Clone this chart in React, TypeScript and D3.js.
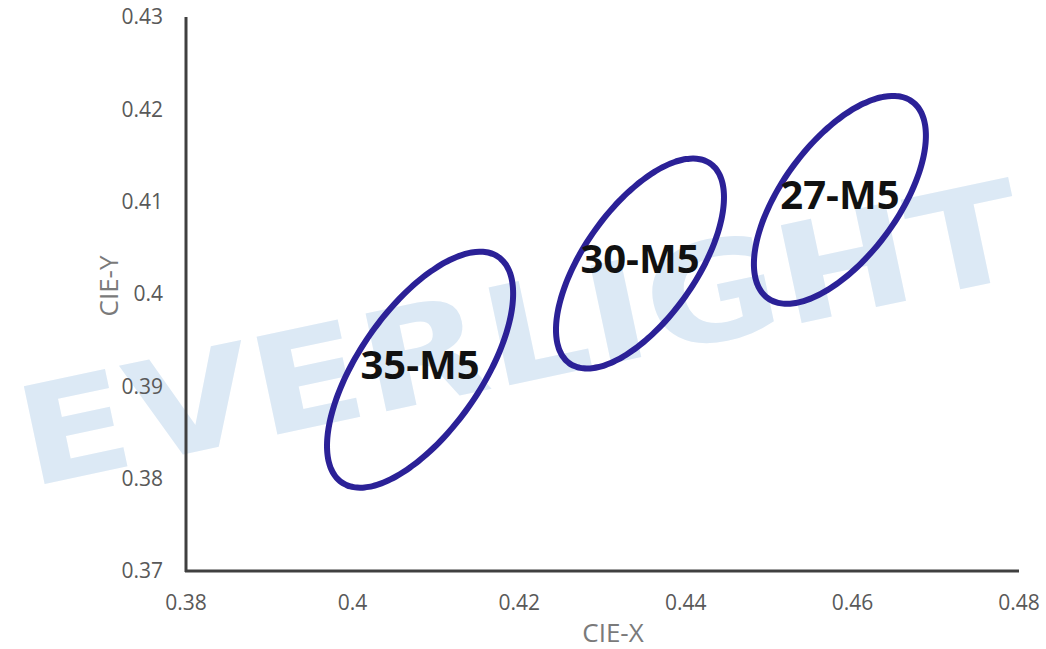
import React from 'react';
import * as d3 from 'd3';

// MacAdam 5-step ellipses
const bins = ['27-M5', '30-M5', '35-M5'];
const centerX = [0.4585, 0.4345, 0.4081];
const centerY = [0.4102, 0.4033, 0.3918];
const semiMajor = [0.01375, 0.01375, 0.01543];
const semiMinor = [0.00665, 0.00647, 0.00707];
const tiltDeg = [49.0, 50.4, 50.9];

const xTicks = [0.38, 0.4, 0.42, 0.44, 0.46, 0.48];
const yTicks = [0.37, 0.38, 0.39, 0.4, 0.41, 0.42, 0.43];

const W = 1046;
const H = 649;
const margin = { top: 17, right: 27, bottom: 78, left: 186 };

const fmt = (v: number) => String(+v.toFixed(2));

export default function App() {
  const x = d3.scaleLinear().domain([0.38, 0.48]).range([margin.left, W - margin.right]);
  const y = d3.scaleLinear().domain([0.37, 0.43]).range([H - margin.bottom, margin.top]);

  const angles = d3.range(0, 360, 3).map(d => (d * Math.PI) / 180);
  const outline = d3.line<[number, number]>()
    .x(d => x(d[0]))
    .y(d => y(d[1]))
    .curve(d3.curveCardinalClosed);

  const ellipses = bins.map((name, i) => {
    const th = (tiltDeg[i] * Math.PI) / 180;
    const pts: [number, number][] = angles.map(t => [
      centerX[i] + semiMajor[i] * Math.cos(th) * Math.cos(t) - semiMinor[i] * Math.sin(th) * Math.sin(t),
      centerY[i] + semiMajor[i] * Math.sin(th) * Math.cos(t) + semiMinor[i] * Math.cos(th) * Math.sin(t),
    ]);
    return { name, d: outline(pts) as string, cx: x(centerX[i]), cy: y(centerY[i]) };
  });

  const x0 = margin.left;
  const x1 = W - margin.right;
  const y0 = H - margin.bottom;
  const y1 = margin.top;

  return (
    <svg width={W} height={H} style={{ position: 'absolute', left: 0, top: 0, background: '#fff' }}>
      {/* watermark */}
      <text
        transform="translate(30,487) rotate(-12)"
        fontFamily="DejaVu Sans"
        fontWeight={700}
        fontSize={137}
        textLength={1022}
        lengthAdjust="spacingAndGlyphs"
        fill="#dce9f5"
      >
        EVERLIGHT
      </text>

      {/* axes */}
      <line x1={x0} x2={x0} y1={y1} y2={y0 + 1} stroke="#404040" strokeWidth={3} />
      <line x1={x0 - 1} x2={x1} y1={y0} y2={y0} stroke="#404040" strokeWidth={3} />

      {yTicks.map(v => (
        <text key={'y' + v} x={163} y={y(v)} dy="0.35em" textAnchor="end"
          fontFamily="Open Sans" fontSize={21} fill="#595959">{fmt(v)}</text>
      ))}
      {xTicks.map(v => (
        <text key={'x' + v} x={x(v)} y={603} dy="0.35em" textAnchor="middle"
          fontFamily="Open Sans" fontSize={21} fill="#595959">{fmt(v)}</text>
      ))}

      <text x={613} y={642} textAnchor="middle" fontFamily="Open Sans" fontSize={26} fill="#7a7a7a">CIE-X</text>
      <text transform="translate(118,286) rotate(-90)" textAnchor="middle" fontFamily="Open Sans"
        fontSize={26} fill="#7a7a7a">CIE-Y</text>

      {ellipses.map(e => (
        <path key={e.name} d={e.d} fill="none" stroke="#2b2197" strokeWidth={6} />
      ))}
      {ellipses.map(e => (
        <text key={'l' + e.name} x={e.cx} y={e.cy + 9} textAnchor="middle"
          fontFamily="Open Sans" fontWeight={700} fontSize={40} fill="#111">{e.name}</text>
      ))}
    </svg>
  );
}
